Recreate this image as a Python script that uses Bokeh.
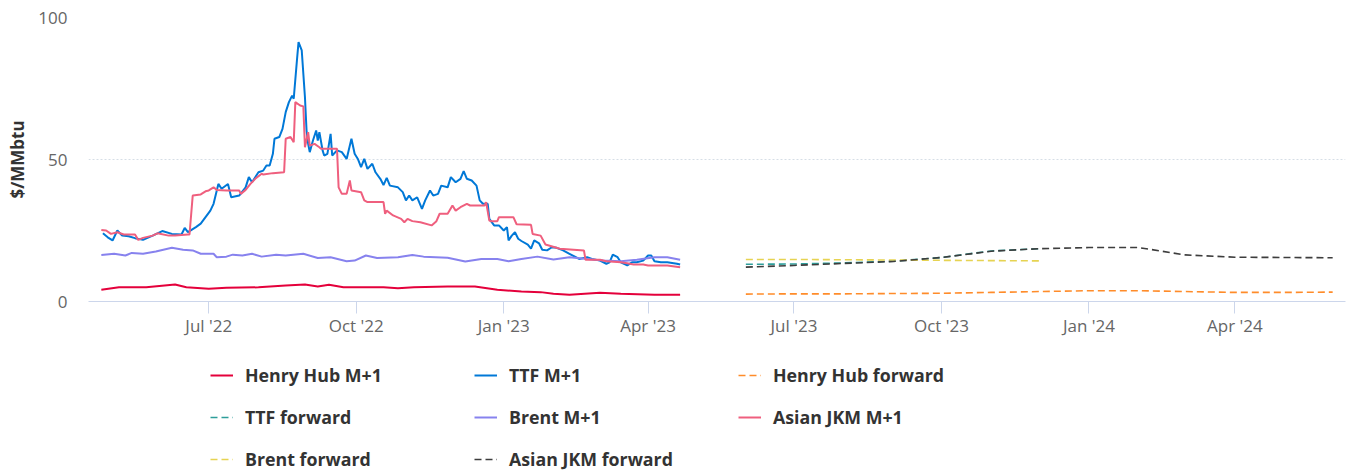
import pandas as pd
from bokeh.plotting import figure
from bokeh.layouts import column
from bokeh.models import (Range1d, FixedTicker, DatetimeTickFormatter, Legend,
                          LegendItem)
from bokeh.embed import file_html
from bokeh.resources import INLINE

# ---------------- data ----------------
x_tick_dates = ["2022-07-01", "2022-10-01", "2023-01-01", "2023-04-01",
                "2023-07-01", "2023-10-01", "2024-01-01", "2024-04-01"]
y_ticks = [0, 50, 100]

hh_dates = ["2022-04-25", "2022-05-06", "2022-05-23", "2022-06-10", "2022-06-17", "2022-07-01",
            "2022-07-12", "2022-08-01", "2022-08-18", "2022-08-30", "2022-09-07", "2022-09-14",
            "2022-09-23", "2022-10-18", "2022-10-27", "2022-11-06", "2022-11-27", "2022-12-14",
            "2022-12-28", "2023-01-12", "2023-01-24", "2023-02-01", "2023-02-11", "2023-03-02",
            "2023-03-15", "2023-04-05", "2023-04-21"]
hh_vals = [4.1, 5.0, 5.0, 6.0, 5.0, 4.5, 4.8, 5.0, 5.6, 6.0, 5.3, 5.9, 5.0, 5.0, 4.7, 5.0,
           5.3, 5.3, 4.1, 3.5, 3.3, 2.7, 2.4, 3.1, 2.7, 2.4, 2.4]

ttf_dates = ["2022-04-26", "2022-04-29", "2022-05-02", "2022-05-05", "2022-05-08", "2022-05-12",
             "2022-05-16", "2022-05-21", "2022-05-27", "2022-06-02", "2022-06-08", "2022-06-14",
             "2022-06-16", "2022-06-18", "2022-06-23", "2022-06-26", "2022-06-29", "2022-07-02",
             "2022-07-04", "2022-07-07", "2022-07-09", "2022-07-13", "2022-07-15", "2022-07-20",
             "2022-07-24", "2022-07-26", "2022-07-28", "2022-08-01", "2022-08-04", "2022-08-06",
             "2022-08-08", "2022-08-10", "2022-08-11", "2022-08-14", "2022-08-16", "2022-08-18",
             "2022-08-20", "2022-08-22", "2022-08-23", "2022-08-25", "2022-08-26", "2022-08-28",
             "2022-08-30", "2022-08-31", "2022-09-01", "2022-09-02", "2022-09-04", "2022-09-06",
             "2022-09-07", "2022-09-08", "2022-09-10", "2022-09-11", "2022-09-13", "2022-09-15",
             "2022-09-16", "2022-09-19", "2022-09-22", "2022-09-25", "2022-09-28", "2022-09-30",
             "2022-10-02", "2022-10-04", "2022-10-06", "2022-10-08", "2022-10-11", "2022-10-13",
             "2022-10-16", "2022-10-18", "2022-10-20", "2022-10-22", "2022-10-27", "2022-10-30",
             "2022-11-01", "2022-11-03", "2022-11-05", "2022-11-08", "2022-11-11", "2022-11-13",
             "2022-11-16", "2022-11-18", "2022-11-21", "2022-11-23", "2022-11-27", "2022-11-29",
             "2022-12-02", "2022-12-05", "2022-12-07", "2022-12-09", "2022-12-12", "2022-12-15",
             "2022-12-17", "2022-12-19", "2022-12-22", "2022-12-23", "2022-12-26", "2022-12-29",
             "2023-01-01", "2023-01-03", "2023-01-04", "2023-01-06", "2023-01-08", "2023-01-10",
             "2023-01-12", "2023-01-16", "2023-01-18", "2023-01-20", "2023-01-23", "2023-01-25",
             "2023-01-28", "2023-01-31", "2023-02-03", "2023-02-07", "2023-02-11", "2023-02-17",
             "2023-02-22", "2023-02-25", "2023-03-02", "2023-03-06", "2023-03-08", "2023-03-10",
             "2023-03-13", "2023-03-15", "2023-03-19", "2023-03-22", "2023-03-25", "2023-03-29",
             "2023-04-01", "2023-04-03", "2023-04-05", "2023-04-09", "2023-04-13", "2023-04-17",
             "2023-04-19", "2023-04-21"]
ttf_vals = [24.0, 22.6, 21.5, 25.0, 23.2, 23.0, 22.3, 21.7, 23.2, 24.8, 23.8, 23.6,
            25.9, 24.4, 26.2, 27.4, 29.7, 32.0, 34.4, 41.4, 39.7, 41.4, 36.7, 37.3,
            40.2, 43.8, 42.0, 45.5, 46.1, 47.9, 47.9, 52.0, 57.3, 57.9, 60.8, 66.7,
            70.2, 72.5, 71.4, 84.9, 91.3, 88.4, 71.9, 60.2, 55.5, 52.6, 56.7, 60.2,
            56.7, 59.6, 53.2, 51.4, 52.0, 59.0, 51.4, 53.2, 52.6, 50.2, 57.3, 52.0,
            50.2, 47.3, 50.2, 46.7, 48.5, 45.5, 43.2, 41.0, 43.5, 40.8, 40.2, 38.5,
            35.6, 37.3, 35.6, 36.7, 32.6, 35.6, 39.1, 37.3, 37.9, 40.8, 40.2, 43.8,
            42.0, 43.2, 45.9, 43.2, 42.6, 40.8, 35.6, 34.4, 34.4, 29.1, 26.8, 26.8,
            25.0, 26.2, 21.5, 23.2, 24.4, 22.1, 21.3, 20.0, 18.6, 21.5, 20.5, 18.2,
            18.0, 19.1, 18.9, 18.0, 16.8, 15.0, 15.6, 15.0, 14.4, 13.3, 13.8, 16.5,
            15.6, 13.8, 12.7, 13.8, 13.8, 14.4, 16.2, 16.2, 14.2, 13.8, 13.8, 13.5,
            13.3, 13.0]

brent_dates = ["2022-04-25", "2022-05-03", "2022-05-10", "2022-05-14", "2022-05-21", "2022-05-29",
               "2022-06-08", "2022-06-15", "2022-06-21", "2022-06-26", "2022-07-04", "2022-07-06",
               "2022-07-12", "2022-07-16", "2022-07-22", "2022-07-28", "2022-08-03", "2022-08-12",
               "2022-08-18", "2022-08-29", "2022-09-07", "2022-09-15", "2022-09-25", "2022-09-30",
               "2022-10-07", "2022-10-14", "2022-10-27", "2022-11-05", "2022-11-12", "2022-11-27",
               "2022-12-08", "2022-12-18", "2022-12-28", "2023-01-04", "2023-01-12", "2023-01-22",
               "2023-02-01", "2023-02-11", "2023-02-22", "2023-03-04", "2023-03-15", "2023-03-25",
               "2023-04-05", "2023-04-13", "2023-04-21"]
brent_vals = [16.4, 16.8, 16.2, 17.1, 16.8, 17.6, 18.9, 18.2, 18.0, 16.8, 16.8, 15.6,
              15.8, 16.5, 16.2, 16.8, 15.8, 16.5, 16.2, 16.8, 15.3, 15.6, 14.2, 14.4,
              16.2, 15.3, 15.6, 16.4, 15.8, 15.4, 14.1, 15.0, 15.0, 14.2, 15.0, 15.8,
              14.8, 15.6, 15.0, 14.4, 14.2, 14.7, 15.6, 15.6, 14.7]

jkm_dates = ["2022-04-25", "2022-04-28", "2022-05-01", "2022-05-05", "2022-05-09", "2022-05-16",
             "2022-05-18", "2022-05-21", "2022-05-27", "2022-05-30", "2022-06-06", "2022-06-10",
             "2022-06-18", "2022-06-19", "2022-06-21", "2022-06-26", "2022-06-29", "2022-07-01",
             "2022-07-04", "2022-07-06", "2022-07-12", "2022-07-20", "2022-07-21", "2022-07-24",
             "2022-07-27", "2022-07-30", "2022-08-03", "2022-08-04", "2022-08-10", "2022-08-17",
             "2022-08-18", "2022-08-21", "2022-08-23", "2022-08-24", "2022-08-27", "2022-08-29",
             "2022-08-30", "2022-09-01", "2022-09-02", "2022-09-05", "2022-09-08", "2022-09-09",
             "2022-09-19", "2022-09-20", "2022-09-22", "2022-09-25", "2022-09-27", "2022-09-28",
             "2022-10-04", "2022-10-06", "2022-10-08", "2022-10-18", "2022-10-19", "2022-10-20",
             "2022-10-24", "2022-10-29", "2022-10-31", "2022-11-02", "2022-11-05", "2022-11-10",
             "2022-11-17", "2022-11-20", "2022-11-22", "2022-11-27", "2022-11-30", "2022-12-02",
             "2022-12-05", "2022-12-09", "2022-12-11", "2022-12-20", "2022-12-21", "2022-12-23",
             "2022-12-24", "2022-12-28", "2022-12-29", "2023-01-07", "2023-01-09", "2023-01-18",
             "2023-01-19", "2023-01-24", "2023-01-27", "2023-02-05", "2023-02-20", "2023-02-21",
             "2023-03-02", "2023-03-06", "2023-03-15", "2023-03-19", "2023-03-23", "2023-03-29",
             "2023-04-01", "2023-04-13", "2023-04-21"]
jkm_vals = [25.2, 25.0, 23.8, 24.4, 23.6, 23.6, 21.7, 22.4, 23.2, 24.0, 23.2, 23.2,
            23.6, 23.6, 37.3, 37.7, 38.8, 39.1, 40.2, 39.3, 39.1, 39.1, 37.9, 39.3,
            41.4, 43.2, 45.0, 44.7, 45.2, 45.5, 57.3, 57.9, 56.1, 70.2, 69.0, 68.7,
            54.3, 59.6, 54.9, 55.5, 54.3, 53.8, 53.8, 40.2, 37.9, 37.9, 42.6, 39.1,
            38.5, 35.6, 35.0, 35.0, 30.9, 32.0, 30.3, 29.1, 27.9, 29.1, 28.3, 27.9,
            26.8, 28.3, 30.9, 30.9, 33.8, 32.0, 33.2, 34.4, 33.8, 33.8, 35.0, 28.5,
            28.3, 28.3, 29.7, 29.7, 27.2, 27.0, 23.8, 23.2, 20.1, 18.6, 18.0, 14.7,
            14.7, 14.2, 13.8, 13.5, 13.0, 13.0, 12.7, 12.7, 12.1]

fwd_months = ["2023-06-01", "2023-07-01", "2023-08-01", "2023-09-01", "2023-10-01",
              "2023-11-01", "2023-12-01", "2024-01-01", "2024-02-01", "2024-03-01",
              "2024-04-01", "2024-05-01", "2024-06-01"]
hh_fwd = [2.6, 2.7, 2.7, 2.8, 2.9, 3.2, 3.5, 3.8, 3.8, 3.5, 3.2, 3.2, 3.3]
ttf_fwd = [13.1, 13.2, 13.6, 14.2, 15.5, 17.8, 18.6]
brent_fwd = [14.8, 14.8, 14.7, 14.6, 14.5, 14.4, 14.3]
jkm_fwd = [12.1, 12.7, 13.4, 14.1, 15.5, 17.7, 18.6, 19.0, 19.0, 16.4, 15.6, 15.5, 15.4]

# ---------------- main figure ----------------
FONT = "Open Sans"
p = figure(width=1348, height=340, x_axis_type="datetime",
           x_range=Range1d(pd.Timestamp("2022-04-17"), pd.Timestamp("2024-06-09")),
           y_range=Range1d(0, 100), output_backend="svg", toolbar_location=None,
           min_border_left=88, min_border_right=3, min_border_top=17, min_border_bottom=39)
p.outline_line_color = None
p.background_fill_color = "white"
p.border_fill_color = "white"

def D(lst):
    return pd.to_datetime(lst)

series = [
    ("Henry Hub M+1", D(hh_dates), hh_vals, "#e4003b", "solid", 2),
    ("TTF M+1", D(ttf_dates), ttf_vals, "#0078d7", "solid", 2),
    ("Henry Hub forward", D(fwd_months), hh_fwd, "#ff8c2a", "7 4", 1.6),
    ("TTF forward", D(fwd_months[:len(ttf_fwd)]), ttf_fwd, "#2e9e9a", "7 4", 1.6),
    ("Brent M+1", D(brent_dates), brent_vals, "#8782ee", "solid", 2),
    ("Asian JKM M+1", D(jkm_dates), jkm_vals, "#ef5f7e", "solid", 2),
    ("Brent forward", D(fwd_months[:len(brent_fwd)]), brent_fwd, "#e6d352", "7 4", 1.6),
    ("Asian JKM forward", D(fwd_months), jkm_fwd, "#3d3d3d", "7 4", 1.6),
]

for name, xs, ys, col, dash, w in series:
    p.line(x=xs, y=ys, line_color=col, line_width=w, line_dash=dash)

# axes
xt = [pd.Timestamp(d).value / 1e6 for d in x_tick_dates]
p.xaxis.ticker = FixedTicker(ticks=xt)
fmt = "%b '%y"
p.xaxis.formatter = DatetimeTickFormatter(days=fmt, months=fmt, years=fmt, hours=fmt,
                                          minutes=fmt, seconds=fmt, milliseconds=fmt,
                                          minsec=fmt, hourmin=fmt)
p.xaxis.axis_line_color = "#ccd6eb"
p.xaxis.major_tick_line_color = "#ccd6eb"
p.xaxis.major_tick_out = 12
p.xaxis.major_tick_in = 0
p.xaxis.minor_tick_line_color = None
p.xaxis.major_label_text_font = FONT
p.xaxis.major_label_text_font_size = "17px"
p.xaxis.major_label_text_color = "#666666"
p.xaxis.major_label_standoff = 0

p.yaxis.ticker = FixedTicker(ticks=y_ticks)
p.yaxis.axis_line_color = None
p.yaxis.major_tick_line_color = None
p.yaxis.minor_tick_line_color = None
p.yaxis.major_tick_out = 0
p.yaxis.major_tick_in = 0
p.yaxis.major_label_text_font = FONT
p.yaxis.major_label_text_font_size = "17px"
p.yaxis.major_label_text_color = "#666666"
p.yaxis.major_label_standoff = 21
p.yaxis.axis_label = "$/MMbtu"
p.yaxis.axis_label_text_font = FONT
p.yaxis.axis_label_text_font_size = "17px"
p.yaxis.axis_label_text_font_style = "bold"
p.yaxis.axis_label_text_color = "#333333"
p.yaxis.axis_label_standoff = 6

p.xgrid.grid_line_color = None
p.ygrid.grid_line_color = "#d6dee6"
p.ygrid.grid_line_dash = "2 2"
p.ygrid.grid_line_width = 1

# ---------------- legend strip ----------------
lg = figure(width=1348, height=135, x_range=Range1d(0, 1348), y_range=Range1d(0, 135),
            output_backend="svg", toolbar_location=None, x_axis_location=None,
            y_axis_location=None, min_border_left=0, min_border_right=0,
            min_border_top=0, min_border_bottom=0)
lg.outline_line_color = None
lg.xgrid.grid_line_color = None
lg.ygrid.grid_line_color = None
lg.background_fill_color = "white"
lg.border_fill_color = "white"

nan = float("nan")
items = []
for name, xs, ys, col, dash, w in series:
    r = lg.line(x=[nan], y=[nan], line_color=col, line_width=w, line_dash=dash)
    items.append(LegendItem(label=name, renderers=[r]))

row_offsets = [88.5, 46.5, 4]
for i, off in enumerate(row_offsets):
    leg = Legend(items=items[3 * i:3 * i + 3], location=(122, off), orientation="horizontal",
                 border_line_color=None, background_fill_alpha=0, padding=0, margin=0,
                 spacing=22, label_height=20, glyph_height=20, glyph_width=23,
                 label_standoff=12, label_width=207,
                 label_text_font=FONT, label_text_font_size="17.8px",
                 label_text_font_style="bold", label_text_color="#333333")
    lg.add_layout(leg)

layout = column(p, lg, spacing=0)
open("out.html", "w").write(file_html(layout, INLINE))
